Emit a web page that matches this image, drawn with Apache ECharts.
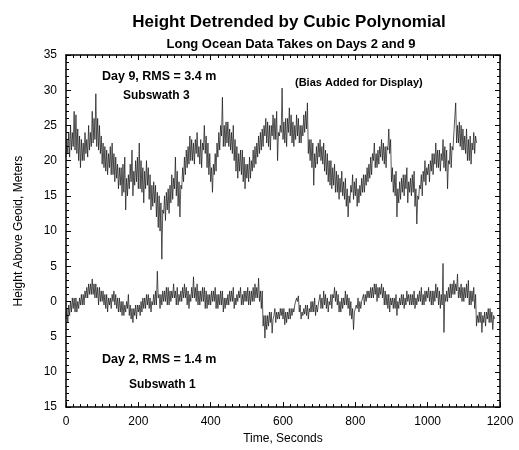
<!DOCTYPE html>
<html>
<head>
<meta charset="utf-8">
<script src="https://cdn.jsdelivr.net/npm/echarts@6/dist/echarts.min.js"></script>
<style>
  html, body { margin: 0; padding: 0; background: #fff; }
  #chart { width: 519px; height: 450px; }
</style>
</head>
<body>
<div id="chart"></div>
<script>
// sampling step of the hand-read traces, seconds
const stepSec = 2.5;

// Day 9, subswath 3 (bias added), read every 2.5 s from t = 0
const day9Height = [
  20.5, 23, 21, 24, 20.5, 25, 21.5, 24, 22, 27, 21.5, 26.5, 21, 24.5, 20, 23.5, 19, 23, 20, 22.5,
  20, 24, 21, 23, 20.5, 25, 21.5, 24, 22, 27, 22.5, 26, 23, 29.5, 22, 26, 21.5, 25, 21, 23.5,
  19.5, 22.5, 19, 22, 18.5, 21.5, 18, 21, 19, 22, 18, 22.5, 18, 21, 17, 20.5, 17.5, 19.5, 16, 19,
  16.5, 19, 15, 19.5, 15.5, 20.5, 13, 17.5, 15, 18, 16, 19.5, 17, 21.5, 15, 18.5, 16.5, 20, 17, 20.5,
  16, 22.5, 16, 20, 15.5, 19, 14, 18.5, 16, 20, 16.5, 19, 14.5, 18, 13, 16.5, 13.5, 17, 14, 16.5,
  12, 15.5, 10.5, 15, 10, 14, 6, 13, 12.5, 15, 11.5, 15.5, 13, 16, 12.5, 16.5, 14, 18, 14.5, 17.5,
  16, 20.5, 15, 18.5, 13.5, 17, 12, 16.5, 16, 19, 17, 20.5, 18, 21.5, 19, 22, 19.5, 23.5, 20, 23,
  20, 22.5, 19.5, 23, 21, 24, 20.5, 22, 19.5, 23, 19, 22.5, 21.5, 25, 21, 23.5, 19, 22.5, 18, 21,
  17, 19, 15.5, 19.5, 18, 21, 18.5, 22.5, 20.5, 24, 21.5, 25, 23.5, 29, 22, 25, 22, 25.5, 22.5, 25.5,
  22, 24.5, 21.5, 24, 21, 25, 20, 23, 18.5, 22, 17.5, 21, 18.5, 21.5, 18, 21.5, 17, 20.5, 16, 19.5,
  17.5, 19.5, 17, 20.5, 17.5, 20, 18.5, 21.5, 19, 22, 19.5, 22.5, 20.5, 23.5, 21, 24, 21.5, 24.5, 22, 25,
  23.5, 26, 22.5, 25.5, 22, 25, 21.5, 25, 23.5, 26.5, 23, 26, 23, 27, 20, 24, 23.5, 25, 24, 30.3,
  23, 25.5, 22.5, 26, 22, 26, 24, 27.5, 23.5, 26.5, 22.5, 25.5, 22, 25, 23, 26.5, 23.5, 26, 22.5, 25,
  22.5, 25, 23.5, 26.5, 24, 27, 24.5, 28.2, 21, 23, 20, 23, 19, 22.5, 16.5, 21, 19, 22, 19.5, 22.5,
  20.5, 23, 20, 22, 19.5, 22.5, 18.5, 21.5, 18, 21, 17, 20, 16.5, 20, 16, 19, 16.5, 19.5, 15.5, 18.5,
  15.5, 18, 14.5, 17.5, 15.5, 18.5, 15, 17, 14.5, 17.5, 13.5, 16, 12, 15, 14, 16.5, 15.5, 18, 14.5, 17,
  15, 17.5, 13.5, 16, 14, 16.5, 15, 17.5, 15.5, 18, 15.5, 18, 16.5, 19, 17, 19.5, 17.5, 20.5, 18, 21,
  20, 22.5, 19, 21, 19, 21.5, 19.5, 22, 20.5, 23, 20, 22.5, 19.5, 22, 19, 22, 21.5, 24.5, 21, 23,
  17, 19, 15.5, 18, 15, 18.5, 12, 16, 14, 17, 14.5, 17.5, 15.5, 18, 15, 18, 16, 19, 14, 17,
  15.5, 17.5, 15, 18, 15.5, 18.5, 13.5, 16, 11, 15, 14.5, 16.5, 16, 18, 15, 18.5, 17, 20, 16.5, 19,
  18, 19.5, 17, 20, 18.5, 21, 18, 21, 19.5, 22.5, 19, 21.5, 19, 21.5, 18.5, 21, 20, 23, 19, 22,
  18.5, 21.5, 16, 20, 19.5, 22.5, 19, 22, 21.5, 24, 24, 28.2, 22.5, 25, 22.5, 25.5, 22, 25, 21.5, 24.5,
  21.5, 23.5, 21, 24.5, 20, 23, 20, 23.5, 19.5, 22.5, 21.5, 24, 21, 23.5, 22.5
];

// Day 2, subswath 1, read every 2.5 s from t = 0
const day2Height = [
  -2.5, -1, -3, -0.5, -2, 0, -1.5, 0.5, -1, 0.5, -1.5, 0.5, -1.5, 0, -1, 0.5, -0.5, 1, -0.5, 1,
  -0.5, 1.5, 0.5, 2, 0.5, 2.5, 1, 2.5, 1, 3.2, 1, 2.5, 0.5, 2.5, 0.5, 2, -0.5, 2, 0, 1.5,
  0, 1.5, -0.5, 1, -1, 1, -1.5, 0.5, -0.5, 0.5, -1, 1, 0, 1.5, -0.5, 1, -1, 0.5, -1.5, 0.5,
  -1.5, 0, -2, 0, -2, -0.5, -1.5, 0, -1, 1, -2, -0.5, -2.5, -1, -3, -1, -2, -0.5, -2.5, -0.5,
  -1.5, -0.5, -2, 0, -1.5, 0.5, -1, 0.5, -1, 1, -0.5, 1, -1, 0.5, -1.5, 0, -0.5, 1, -0.5, 1.5,
  -0.5, 4.3, 0.5, 1, -1, 1, -0.5, 1.5, 0, 1.5, 0, 2, -0.5, 2, -0.5, 1.5, 0, 1.5, 0.5, 2.5,
  0.5, 1.5, -0.5, 2, -0.5, 1, 0, 1.5, 0, 2, 0.5, 2.5, 0.5, 2, -0.5, 1.5, -1, 1, 0, 2,
  0.5, 3.5, 0.5, 2, 0, 2.5, -0.5, 1.5, -0.5, 1.5, 0, 2, 0, 2, -1, 1.5, -1, 1, -0.5, 1,
  -0.5, 1.5, 0, 1.5, 0, 2, -1, 1, -1, 1, -0.5, 1.5, -0.5, 1.5, -1.5, 0.5, -1, 0.5, -0.5, 1,
  -0.5, 1.5, 0, 1.5, 0, 2, -1, 0.5, -0.5, 1, 0, 1.5, 0.5, 2, -0.5, 1, -0.5, 1.5, 0, 1.5,
  0, 2, -0.5, 1.5, -0.5, 1.5, 0, 2, 0, 2.5, 0.5, 2, 0.5, 3.3, 0, 1.5, -1, 1.5, -3.5, -2,
  -5.2, -2, -4, -2, -3.5, -1.5, -3, -1.5, -4.5, -2.5, -2, -1, -3, -1.5, -2.5, -1.5, -2.5, -1, -2, -1,
  -2.5, -1, -3.3, -1.5, -3, -1.5, -2.5, -1, -2.5, -1, -2, -1, -1.5, -0.5, -0.5, 0.5, 0, 0.8, -1.5, -0.5,
  -2.5, -1.5, -2, -1, -1.8, -0.5, -2, -0.5, -2.5, -1, -1.5, 0, -1.5, 0, -1.5, 0.5, -2, -0.5, -1.5, -0.5,
  -0.5, 1, -1, 0.5, -1, 1.5, -0.5, 1, -1, 0.5, -1.5, 0, -0.5, 1, -1, 1, 0.5, 2, 0, 1.5,
  -0.5, 1, -1.5, 0, -1.5, 0.5, -1, 0.5, -0.5, 1.5, -0.5, 1, -1, 0.5, -2, 0, -2.5, -1, -4, -1.5,
  -1, -0.5, -1, 0.5, -1.5, 0, -1, 0, 0.5, 1, -0.5, 1, 0, 1.5, 0.5, 1.5, 0.5, 2, 0.5, 2,
  0.5, 2.5, 1, 2.5, 0, 2, 0.5, 2, 1, 2.5, 0.5, 2, -0.5, 1.5, -0.5, 1, -1, 1, -1.5, 0.5,
  -0.5, 0.5, -1, 0.5, -1, 1, -2, 0, -1, 0.5, -0.5, 1, -0.5, 1, -1, 0.5, -0.5, 1.5, 0, 1,
  -0.5, 1, -0.5, 1, -0.5, 1.5, -1, 0.5, -0.5, 1, 0, 1.5, 0, 2, -0.5, 1, -0.5, 1.5, 0, 1.5,
  0.5, 2, 0, 1.5, -0.5, 1.5, -0.5, 1.5, 0, 2.5, 0.5, 2, -0.5, 1.5, -1, 1, -0.5, 5.4, -4.4, 1,
  0, 1.5, 0, 2, 0.5, 2.5, 0.5, 2.5, 1, 3, 1, 2.5, 1.5, 3.9, 0.5, 2, 0.5, 2.5, 0, 2,
  0, 2, 0.5, 2.5, 0.5, 3, -0.5, 1.5, -0.5, 1.5, 0, 2, -1, 1, -3.5, -2, -3, -1.5, -3, -1.5,
  -4.4, -2, -3, -1.5, -3.5, -1.5, -2.5, -1, -3, -1, -3, -1.5, -4, -2, -2.5
];

// y tick values and the labels printed beside them
const yTickValues = [-15, -10, -5, 0, 5, 10, 15, 20, 25, 30, 35];
const yTickLabels = ['15', '10', '5', '0', '5', '10', '15', '20', '25', '30', '35'];

const toPairs = arr => arr.map((v, i) => [i * stepSec, v]);

const chart = echarts.init(document.getElementById('chart'));

const font = 'Liberation Sans, Arial, Helvetica, sans-serif';
const frameLine = { show: true, onZero: false, lineStyle: { color: '#000', width: 1.5 } };
const tickStyle = { show: true, inside: true, length: 5, lineStyle: { color: '#000', width: 1 } };
const minorStyle = { show: true, length: 3, lineStyle: { color: '#000', width: 1 } };

chart.setOption({
  animation: false,
  backgroundColor: '#fff',
  title: [
    {
      text: 'Height Detrended by Cubic Polynomial',
      left: 284, top: 9, textAlign: 'center',
      textStyle: { fontFamily: font, fontSize: 17, fontWeight: 'bold', color: '#000' }
    },
    {
      text: 'Long Ocean Data Takes on Days 2 and 9',
      left: 286, top: 33, textAlign: 'center',
      textStyle: { fontFamily: font, fontSize: 13, fontWeight: 'bold', color: '#000' }
    }
  ],
  graphic: [
    { type: 'text', left: 102, top: 70, style: { text: 'Day 9, RMS = 3.4 m', font: 'bold 12.5px ' + font, fill: '#000' } },
    { type: 'text', left: 123, top: 90, style: { text: 'Subswath 3', font: 'bold 12px ' + font, fill: '#000' } },
    { type: 'text', left: 295, top: 77, style: { text: '(Bias Added for Display)', font: 'bold 11px ' + font, fill: '#000' } },
    { type: 'text', left: 102, top: 353, style: { text: 'Day 2, RMS = 1.4 m', font: 'bold 12.5px ' + font, fill: '#000' } },
    { type: 'text', left: 129, top: 379, style: { text: 'Subswath 1', font: 'bold 12px ' + font, fill: '#000' } }
  ],
  grid: { left: 66, right: 19, top: 55, bottom: 36, containLabel: false },
  xAxis: [
    {
      type: 'value', min: 0, max: 1200, interval: 200,
      name: 'Time, Seconds', nameLocation: 'middle', nameGap: 22,
      nameTextStyle: { fontFamily: font, fontSize: 12, color: '#000' },
      axisLine: frameLine,
      axisTick: tickStyle,
      minorTick: { ...minorStyle, splitNumber: 10 },
      axisLabel: { fontFamily: font, fontSize: 12, color: '#000', margin: 9, formatter: v => String(v) },
      splitLine: { show: false }
    },
    {
      type: 'value', min: 0, max: 1200, interval: 200, position: 'top',
      axisLine: frameLine,
      axisTick: tickStyle,
      minorTick: { ...minorStyle, splitNumber: 10 },
      axisLabel: { show: false },
      splitLine: { show: false }
    }
  ],
  yAxis: [
    {
      type: 'value', min: -15, max: 35, interval: 5,
      name: 'Height Above Geoid, Meters', nameLocation: 'middle', nameGap: 41,
      nameTextStyle: { fontFamily: font, fontSize: 12, color: '#000' },
      axisLine: frameLine,
      axisTick: tickStyle,
      minorTick: { ...minorStyle, splitNumber: 5 },
      axisLabel: {
        fontFamily: font, fontSize: 12, color: '#000', margin: 9,
        formatter: v => yTickLabels[yTickValues.indexOf(v)]
      },
      splitLine: { show: false }
    },
    {
      type: 'value', min: -15, max: 35, interval: 5, position: 'right',
      axisLine: frameLine,
      axisTick: tickStyle,
      minorTick: { ...minorStyle, splitNumber: 5 },
      axisLabel: { show: false },
      splitLine: { show: false }
    }
  ],
  series: [
    {
      name: 'Day 9', type: 'line', xAxisIndex: 0, yAxisIndex: 0,
      data: toPairs(day9Height), showSymbol: false,
      lineStyle: { color: '#111', width: 0.7 }
    },
    {
      name: 'Day 2', type: 'line', xAxisIndex: 0, yAxisIndex: 0,
      data: toPairs(day2Height), showSymbol: false,
      lineStyle: { color: '#111', width: 0.7 }
    }
  ]
});
</script>
</body>
</html>
